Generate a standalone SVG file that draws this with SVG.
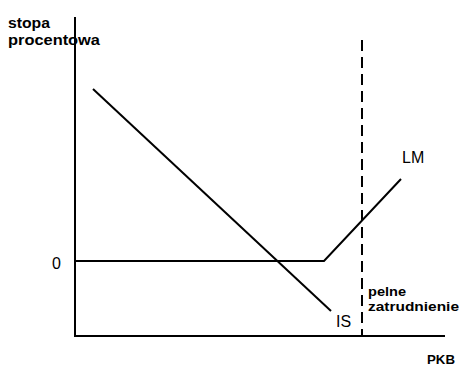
<svg xmlns="http://www.w3.org/2000/svg" width="459" height="366" viewBox="0 0 459 366">
<style>
.ln{stroke:#000;stroke-width:2;fill:none}
.b{font-family:"Liberation Sans",Arial,sans-serif;font-weight:bold;fill:#000}
.r{font-family:"Liberation Sans",Arial,sans-serif;fill:#000}
</style>
<rect width="459" height="366" fill="#fff"/>
<g id="axes">
<line class="ln" x1="75" y1="17" x2="75" y2="337"/>
<line class="ln" x1="74" y1="336" x2="445" y2="336"/>
<text class="b" x="8" y="28" font-size="15" textLength="42" lengthAdjust="spacingAndGlyphs">stopa</text>
<text class="b" x="8" y="45" font-size="15" textLength="92" lengthAdjust="spacingAndGlyphs">procentowa</text>
<text class="b" x="427" y="364" font-size="13" textLength="28" lengthAdjust="spacingAndGlyphs">PKB</text>
<text class="r" x="52" y="269" font-size="16">0</text>
</g>
<g id="connectors">
<polyline id="LM" class="ln" points="75,261 324,261 401,179"/>
<line id="IS" class="ln" x1="93" y1="89" x2="331" y2="311"/>
<line id="full" class="ln" x1="362" y1="40" x2="362" y2="336" stroke-dasharray="11,6"/>
</g>
<g id="labels">
<text class="r" x="402" y="163" font-size="16">LM</text>
<text class="r" x="336" y="327" font-size="16">IS</text>
<text class="b" x="368" y="296" font-size="13" textLength="38" lengthAdjust="spacingAndGlyphs">pelne</text>
<text class="b" x="368" y="311" font-size="13" textLength="91" lengthAdjust="spacingAndGlyphs">zatrudnienie</text>
</g>
</svg>
